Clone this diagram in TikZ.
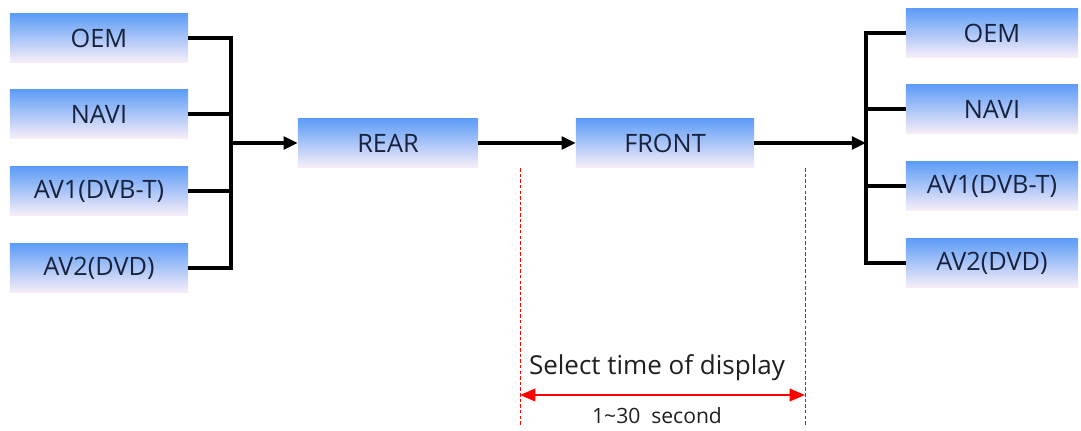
\documentclass[tikz,border=0pt]{standalone}
\usepackage{fontspec}
\setmainfont{Open Sans}
\usetikzlibrary{arrows.meta}
\definecolor{boxtop}{HTML}{5C9CF7}
\definecolor{boxbot}{HTML}{F8EEF8}
\definecolor{boxtext}{HTML}{18223C}
\begin{document}
\begin{tikzpicture}
    [x=0.025cm,y=-0.025cm,
     box/.style={rectangle,minimum width=4.45cm,minimum height=1.22cm,inner sep=0pt,
       top color=boxtop,bottom color=boxbot,text=boxtext,font=\fontsize{18}{20}\selectfont},
     wire/.style={line width=2.2pt,black},
     arr/.style={wire,-{Triangle[length=10pt,width=9pt]}},
     timeline/.style={red,line width=0.7pt,dash pattern=on 2.5pt off 1.5pt}]
    \useasboundingbox (0,0) rectangle (1081,430);
    % inputs
    \node[box] (lOEM) at (99,38)  {OEM};
    \node[box] (lNAVI) at (99,114) {NAVI};
    \node[box] (lAV1) at (99,191) {AV1(DVB-T)};
    \node[box] (lAV2) at (99,268) {AV2(DVD)};
    % camera boxes
    \node[box,minimum width=4.5cm] (rear) at (388,143) {REAR};
    \node[box,minimum width=4.45cm] (front) at (665,143) {FRONT};
    % outputs
    \node[box,minimum width=4.3cm] (rOEM) at (992,33)  {OEM};
    \node[box,minimum width=4.3cm] (rNAVI) at (992,109) {NAVI};
    \node[box,minimum width=4.3cm] (rAV1) at (992,186) {AV1(DVB-T)};
    \node[box,minimum width=4.3cm] (rAV2) at (992,263) {AV2(DVD)};
    \coordinate (jL) at (231,143);
    \coordinate (jR) at (866,143);

    \draw[wire] (lOEM.east) -| (jL);
    \draw[wire] (lAV2.east) -| (jL);
    \foreach \src in {lNAVI,lAV1}
      \draw[wire] (\src.east) -- (\src.east -| jL);
    \draw[arr] (jL) -- (rear);
    \draw[arr] (rear) -- (front);
    \draw[arr] (front) -- (jR);
    \draw[wire] (rOEM.west) -| (jR);
    \draw[wire] (rAV2.west) -| (jR);
    \foreach \dst in {rNAVI,rAV1}
      \draw[wire] (\dst.west) -- (\dst.west -| jR);

    % display time
    \coordinate (tA) at (520,168);
    \coordinate (tB) at (805,168);
    \coordinate (tA2) at (520,426);
    \coordinate (tB2) at (805,426);
    \draw[timeline] (tA) -- (tA2);
    \draw[timeline] (tB) -- (tB2);
    \coordinate (pA) at (520,395);
    \coordinate (pB) at (805,395);
    \draw[red,line width=1.5pt,{Triangle[length=11pt,width=9pt]}-{Triangle[length=11pt,width=9pt]}] (pA) -- (pB);
    \node[font=\fontsize{18.5}{20}\selectfont,text=black!88] (sel) at (657,368) {Select time of display};
    \node[font=\fontsize{15}{17}\selectfont,text=black!88] (sec) at (657,416) {1\textasciitilde30\ \ second};
\end{tikzpicture}
\end{document}
